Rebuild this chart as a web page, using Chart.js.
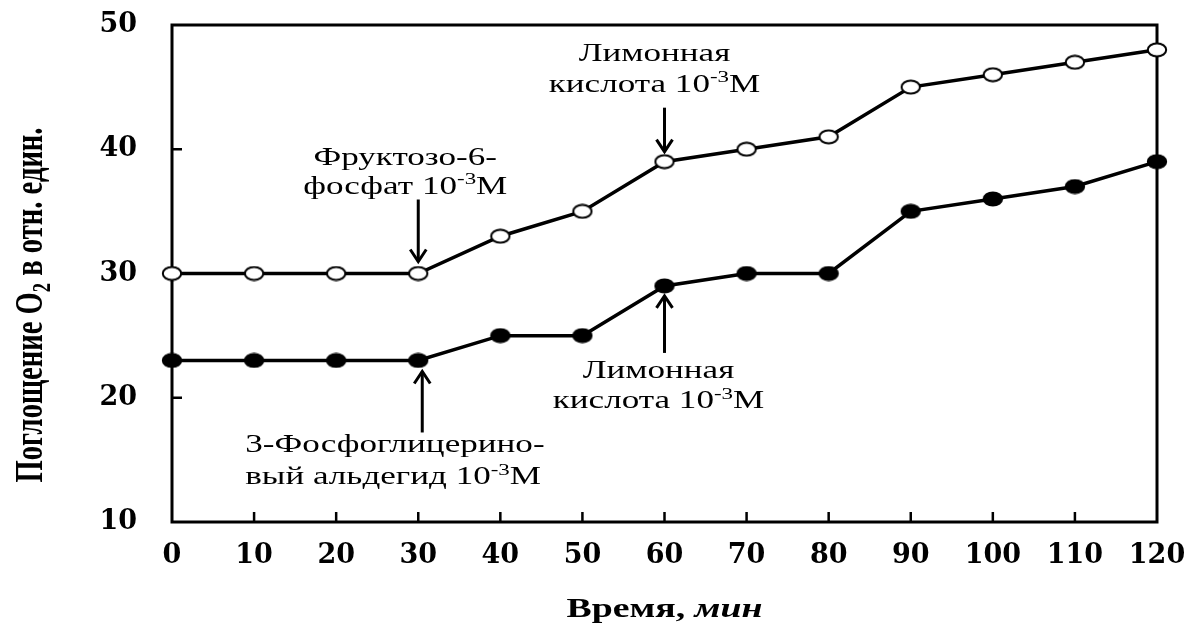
<!DOCTYPE html>
<html>
<head>
<meta charset="utf-8">
<script src="https://cdn.jsdelivr.net/npm/chart.js@4/dist/chart.umd.min.js"></script>
<style>
  html, body { margin: 0; padding: 0; background: #fff; }
</style>
</head>
<body>
<canvas id="myChart" width="1190" height="624"></canvas>
<script>
// data
let minutes = [0, 10, 20, 30, 40, 50, 60, 70, 80, 90, 100, 110, 120]
let fructoseUptake = [30, 30, 30, 30, 33, 35, 39, 40, 41, 45, 46, 47, 48]
let aldehydeUptake = [23, 23, 23, 23, 25, 25, 29, 30, 30, 35, 36, 37, 39]
let yTickValues = [10, 20, 30, 40, 50]

let xTitleBold = 'Время, '
let xTitleItalic = 'мин'
let yTitle = 'Поглощение O_2_ в отн. един.'

// notes: ^..^ marks a superscript
let noteFructose = ['Фруктозо-6-', 'фосфат 10^-3^M']
let noteCitricTop = ['Лимонная', 'кислота 10^-3^M']
let noteCitricBottom = ['Лимонная', 'кислота 10^-3^M']
let noteAldehyde = ['3-Фосфоглицерино-', 'вый альдегид 10^-3^M']

const SERIF = '"Liberation Serif", "Times New Roman", serif'
const SX = 1.35   // the picture is stretched sideways

function ellipseDot(fill) {
    let c = document.createElement('canvas')
    c.width = 22
    c.height = 16
    let g = c.getContext('2d')
    g.beginPath()
    g.ellipse(11, 8, 9.2, 6.5, 0, 0, Math.PI * 2)
    g.fillStyle = fill
    g.fill()
    g.lineWidth = 2
    g.strokeStyle = '#000'
    g.stroke()
    return c
}

function splitRich(str) {
    // returns [{text, kind}] kind: 'n' normal, 'sup', 'sub'
    let parts = str.split(/(\^[^^]*\^|_[^_]*_)/).filter(s => s.length)
    return parts.map(function(p) {
        if (p[0] === '^') return { text: p.slice(1, -1), kind: 'sup' }
        if (p[0] === '_') return { text: p.slice(1, -1), kind: 'sub' }
        return { text: p, kind: 'n' }
    })
}

function fontFor(kind, size, weight, style) {
    let s = kind === 'n' ? size : Math.round(size * 0.65)
    return (style || 'normal') + ' ' + (weight || 'normal') + ' ' + s + 'px ' + SERIF
}

function richWidth(ctx, str, size, weight) {
    let w = 0
    splitRich(str).forEach(function(seg) {
        ctx.font = fontFor(seg.kind, size, weight)
        w += ctx.measureText(seg.text).width
    })
    return w
}

// draw in a local frame already translated to the start of the text
function drawRichAt(ctx, str, size, weight) {
    let cx = 0
    splitRich(str).forEach(function(seg) {
        ctx.font = fontFor(seg.kind, size, weight)
        let dy = 0
        if (seg.kind === 'sup') dy = -size * 0.36
        if (seg.kind === 'sub') dy = size * 0.2
        ctx.fillText(seg.text, cx, dy)
        cx += ctx.measureText(seg.text).width
    })
}

function drawNote(ctx, lines, x, baselines, align, size) {
    ctx.save()
    ctx.fillStyle = '#000'
    ctx.textBaseline = 'alphabetic'
    ctx.textAlign = 'left'
    lines.forEach(function(line, i) {
        let w = richWidth(ctx, line, size) * SX
        let x0 = align === 'center' ? x - w / 2 : x
        ctx.save()
        ctx.translate(x0, baselines[i])
        ctx.scale(SX, 1)
        drawRichAt(ctx, line, size)
        ctx.restore()
    })
    ctx.restore()
}

function drawArrow(ctx, x, yFrom, yTo) {
    let dir = yTo > yFrom ? 1 : -1
    ctx.save()
    ctx.strokeStyle = '#000'
    ctx.lineWidth = 3
    ctx.lineCap = 'butt'
    ctx.beginPath()
    ctx.moveTo(x, yFrom)
    ctx.lineTo(x, yTo)
    ctx.stroke()
    ctx.beginPath()
    ctx.moveTo(x - 8, yTo - dir * 12)
    ctx.lineTo(x, yTo)
    ctx.lineTo(x + 8, yTo - dir * 12)
    ctx.stroke()
    ctx.restore()
}

let framePlugin = {
    id: 'frame',
    beforeDatasetsDraw(chart) {
        let ctx = chart.ctx
        let a = chart.chartArea
        let xs = chart.scales.x
        let ys = chart.scales.y
        ctx.save()
        ctx.strokeStyle = '#000'
        ctx.lineWidth = 3
        ctx.strokeRect(a.left, a.top, a.right - a.left, a.bottom - a.top)
        // inward tick marks
        ctx.lineWidth = 2.5
        ctx.beginPath()
        minutes.forEach(function(m) {
            if (m === xs.min || m === xs.max) return
            let px = xs.getPixelForValue(m)
            ctx.moveTo(px, a.bottom)
            ctx.lineTo(px, a.bottom - 10)
        })
        yTickValues.forEach(function(v) {
            if (v === ys.min || v === ys.max) return
            let py = ys.getPixelForValue(v)
            ctx.moveTo(a.left, py)
            ctx.lineTo(a.left + 10, py)
        })
        ctx.stroke()
        ctx.restore()
    },
    afterDraw(chart) {
        let ctx = chart.ctx
        let a = chart.chartArea
        let xs = chart.scales.x
        let ys = chart.scales.y

        // axis titles
        ctx.save()
        ctx.fillStyle = '#000'
        ctx.textBaseline = 'alphabetic'
        ctx.font = 'bold 28px ' + SERIF
        let wb = ctx.measureText(xTitleBold).width
        ctx.font = 'italic bold 28px ' + SERIF
        let wi = ctx.measureText(xTitleItalic).width
        let cx = (a.left + a.right) / 2
        ctx.translate(cx - (wb + wi) * SX / 2, 617)
        ctx.scale(SX, 1)
        ctx.font = 'bold 28px ' + SERIF
        ctx.fillText(xTitleBold, 0, 0)
        ctx.font = 'italic bold 28px ' + SERIF
        ctx.fillText(xTitleItalic, wb, 0)
        ctx.restore()

        ctx.save()
        ctx.fillStyle = '#000'
        ctx.textBaseline = 'alphabetic'
        let yw = richWidth(ctx, yTitle, 31, 'bold')
        let len = 355
        ctx.translate(42, 305)
        ctx.rotate(-Math.PI / 2)
        ctx.scale(len / yw, 1.3)
        ctx.translate(-yw / 2, 0)
        drawRichAt(ctx, yTitle, 31, 'bold')
        ctx.restore()

        // notes and arrows, anchored on the data points
        let p = function(i, data) {
            return { x: xs.getPixelForValue(minutes[i]), y: ys.getPixelForValue(data[i]) }
        }
        let f = p(3, fructoseUptake)
        drawNote(ctx, noteFructose, f.x - 13, [f.y - 109, f.y - 80], 'center', 26)
        drawArrow(ctx, f.x, f.y - 74, f.y - 12)

        let c1 = p(6, fructoseUptake)
        drawNote(ctx, noteCitricTop, c1.x - 10, [c1.y - 101, c1.y - 70], 'center', 26)
        drawArrow(ctx, c1.x, c1.y - 54, c1.y - 10)

        let c2 = p(6, aldehydeUptake)
        drawNote(ctx, noteCitricBottom, c2.x - 6, [c2.y + 92, c2.y + 122], 'center', 26)
        drawArrow(ctx, c2.x, c2.y + 67, c2.y + 10)

        let g = p(3, aldehydeUptake)
        drawNote(ctx, noteAldehyde, g.x - 173, [g.y + 92, g.y + 124], 'left', 26)
        drawArrow(ctx, g.x + 4, g.y + 72, g.y + 11)
    }
}

let ctx = document.getElementById('myChart').getContext('2d')
let chart = new Chart(ctx, {
    type: 'line',
    data: {
        datasets: [{
            label: 'Фруктозо-6-фосфат',
            data: minutes.map((m, i) => ({ x: m, y: fructoseUptake[i] })),
            borderColor: '#000',
            borderWidth: 3.5,
            pointStyle: ellipseDot('#fff'),
            clip: false
        }, {
            label: '3-Фосфоглицериновый альдегид',
            data: minutes.map((m, i) => ({ x: m, y: aldehydeUptake[i] })),
            borderColor: '#000',
            borderWidth: 3.5,
            pointStyle: ellipseDot('#000'),
            clip: false
        }]
    },
    options: {
        responsive: false,
        animation: false,
        devicePixelRatio: 1,
        layout: { padding: { top: 25, right: 33, left: 0, bottom: 0 } },
        plugins: {
            legend: { display: false },
            tooltip: { enabled: false }
        },
        scales: {
            x: {
                type: 'linear',
                min: 0,
                max: 120,
                afterFit: function(scale) {
                    scale.height = 102
                    scale.paddingLeft = 0
                    scale.paddingRight = 0
                },
                afterBuildTicks: function(scale) { scale.ticks = minutes.map(v => ({ value: v })) },
                grid: { display: true, drawOnChartArea: false, drawTicks: false },
                border: { display: false },
                ticks: {
                    color: '#000',
                    padding: 18,
                    maxRotation: 0,
                    autoSkip: false,
                    font: { family: '"DejaVu Serif", serif', weight: 'bold', size: 27 }
                }
            },
            y: {
                min: 10,
                max: 50,
                afterFit: function(scale) {
                    scale.width = 172
                    scale.paddingTop = 0
                    scale.paddingBottom = 0
                },
                afterBuildTicks: function(scale) { scale.ticks = yTickValues.map(v => ({ value: v })) },
                grid: { display: true, drawOnChartArea: false, drawTicks: false },
                border: { display: false },
                ticks: {
                    color: '#000',
                    padding: 35,
                    font: { family: '"DejaVu Serif", serif', weight: 'bold', size: 27 }
                }
            }
        }
    },
    plugins: [framePlugin]
});
</script>
</body>
</html>
